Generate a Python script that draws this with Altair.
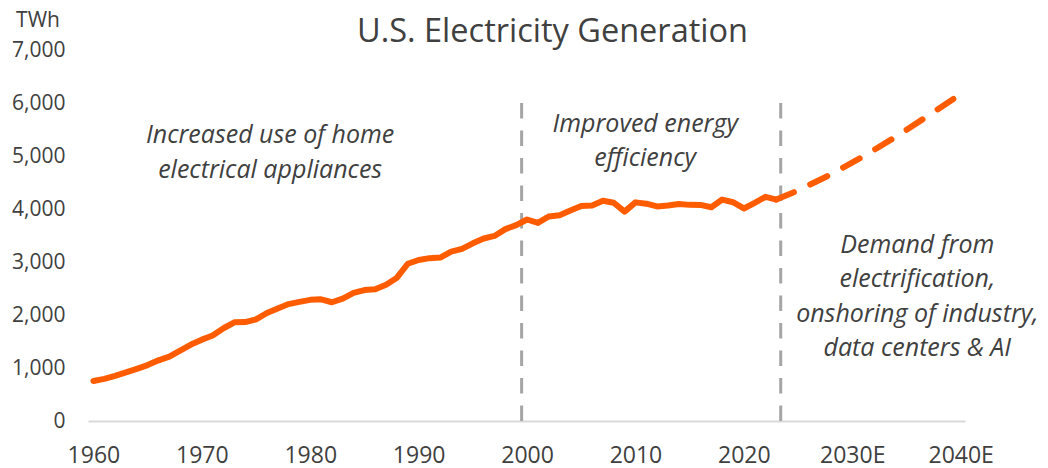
import altair as alt
import pandas as pd

# Historical U.S. electricity generation (TWh), 1960-2023
hist_years = list(range(1960, 2024))
hist_twh = [756, 794, 852, 917, 984, 1055, 1144, 1214, 1329, 1442,
            1535, 1613, 1750, 1861, 1867, 1918, 2038, 2124, 2206, 2247,
            2286, 2295, 2241, 2310, 2416, 2470, 2487, 2572, 2704, 2967,
            3038, 3073, 3084, 3197, 3247, 3353, 3444, 3492, 3620, 3695,
            3802, 3737, 3858, 3883, 3971, 4055, 4065, 4157, 4119, 3950,
            4125, 4100, 4048, 4066, 4094, 4078, 4077, 4034, 4178, 4128,
            4010, 4116, 4230, 4178]

# Projection (estimate)
proj_years = [2023, 2025, 2028, 2031, 2034, 2037, 2040]
proj_twh = [4178, 4350, 4650, 4990, 5360, 5760, 6170]

# Period divider lines
divider_years = [1999.5, 2023.4]
divider_top = [6000, 6000]

# Annotations
note_text = ["Increased use of home\nelectrical appliances",
             "Improved energy\nefficiency",
             "Demand from\nelectrification,\nonshoring of industry,\ndata centers & AI"]
note_x = [1976.3, 2010.9, 2036.0]
note_y = [5245, 5453, 3170]

x_ticks = [1960, 1970, 1980, 1990, 2000, 2010, 2020, 2030, 2040]
y_ticks = [0, 1000, 2000, 3000, 4000, 5000, 6000, 7000]

TEXT = "#404040"
ORANGE = "#FF5C00"
FONT = "Open Sans"

hist = pd.DataFrame({"year": hist_years, "twh": hist_twh})
proj = pd.DataFrame({"year": proj_years, "twh": proj_twh})
div = pd.DataFrame({"year": divider_years, "top": divider_top, "bottom": [0, 0]})
notes = pd.DataFrame({"x": note_x, "y": note_y, "text": note_text})

xscale = alt.Scale(domain=[1959.5, 2040.4], nice=False, zero=False)
yscale = alt.Scale(domain=[0, 7000], nice=False)

xaxis = alt.Axis(values=x_ticks, format="d",
                 labelExpr="datum.value >= 2030 ? datum.label + 'E' : datum.label",
                 labelFontSize=23, labelColor=TEXT, labelFont=FONT, labelPadding=23,
                 ticks=False, grid=False, domainColor="#D9D9D9", domainWidth=2,
                 title=None)
yaxis = alt.Axis(values=y_ticks, format=",d", labelFontSize=21, labelColor=TEXT,
                 labelFont=FONT, labelPadding=23, ticks=False, grid=False, domain=False,
                 title="TWh", titleAngle=0, titleX=-50.5, titleY=-29.5,
                 titleAlign="center", titleBaseline="middle", titleFontSize=21,
                 titleFontWeight="normal", titleColor=TEXT, titleFont=FONT)

rules = alt.Chart(div).mark_rule(color="#A5A5A5", strokeWidth=3, strokeDash=[15.5, 12]).encode(
    x=alt.X("year:Q", scale=xscale, axis=xaxis),
    y=alt.Y("top:Q", scale=yscale, axis=yaxis),
    y2="bottom:Q",
)

hist_line = alt.Chart(hist).mark_line(color=ORANGE, strokeWidth=6, strokeCap="round",
                                      strokeJoin="round").encode(
    x=alt.X("year:Q", scale=xscale, axis=xaxis),
    y=alt.Y("twh:Q", scale=yscale, axis=yaxis),
)

proj_line = alt.Chart(proj).mark_line(color=ORANGE, strokeWidth=6, strokeCap="round",
                                      strokeJoin="round", strokeDash=[19, 18]).encode(
    x=alt.X("year:Q", scale=xscale, axis=xaxis),
    y=alt.Y("twh:Q", scale=yscale, axis=yaxis),
)

labels = alt.Chart(notes).mark_text(font=FONT, fontSize=25, fontStyle="italic",
                                    color=TEXT, align="center", baseline="alphabetic",
                                    lineBreak="\n", lineHeight=34.5).encode(
    x=alt.X("x:Q", scale=xscale, axis=xaxis),
    y=alt.Y("y:Q", scale=yscale, axis=yaxis),
    text="text:N",
)

chart = alt.layer(rules, hist_line, proj_line, labels).properties(
    width=877,
    height=371,
    autosize=alt.AutoSizeParams(type="none"),
    padding={"left": 80, "top": 42, "right": 75, "bottom": 47},
    title=alt.TitleParams("U.S. Electricity Generation", font=FONT, fontSize=32.5,
                          fontWeight="normal", color=TEXT, anchor="middle",
                          baseline="alphabetic", offset=0, dx=26, dy=65),
).configure_view(stroke=None)

chart.save("out.html", embed_options={"renderer": "svg", "actions": False})
